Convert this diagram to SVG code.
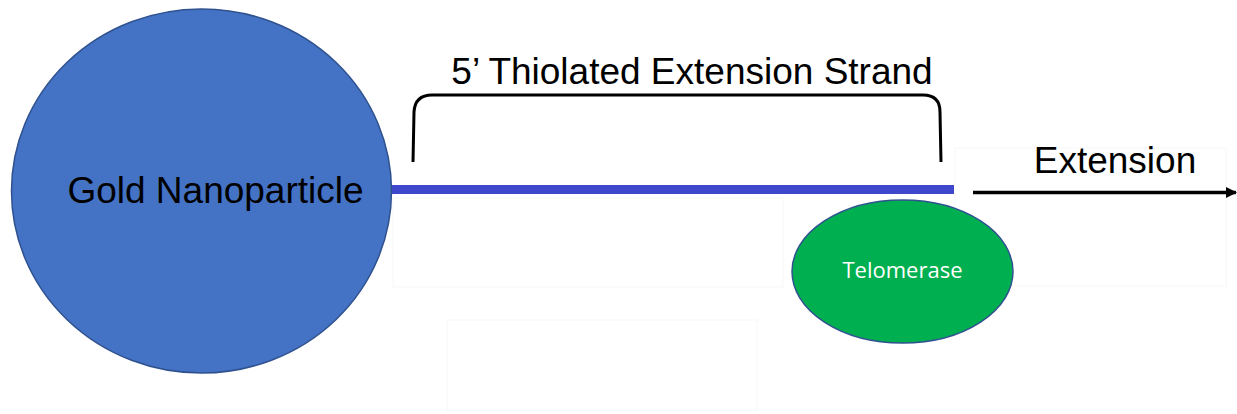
<svg xmlns="http://www.w3.org/2000/svg" width="1237" height="414" viewBox="0 0 1237 414">
  <style>
    .label { font-family: "Liberation Sans", Arial, sans-serif; font-size: 37px; fill: #000000; }
    .enzyme-label { font-family: "Open Sans", "Liberation Sans", sans-serif; font-size: 22px; fill: #ffffff; }
    .ghost { fill: none; stroke: #f7f7f7; stroke-width: 1; }
  </style>
  <defs>
    <marker id="arrowhead" viewBox="0 0 10 10" refX="9" refY="5" markerWidth="3.2" markerHeight="3.6" orient="auto" markerUnits="strokeWidth">
      <path d="M0,0 L10,5 L0,10 Z" fill="#000000"/>
    </marker>
  </defs>

  <rect width="1237" height="414" fill="#ffffff"/>

  <!-- faint empty frames in the background -->
  <g id="frames">
    <rect class="ghost" x="393" y="198" width="390" height="89"/>
    <rect class="ghost" x="955" y="148" width="271" height="138"/>
    <rect class="ghost" x="447" y="320" width="310" height="91"/>
  </g>

  <!-- connectors: DNA strand and extension direction -->
  <g id="connectors">
    <line x1="392" y1="189.5" x2="954" y2="189.5" stroke="#3F48CC" stroke-width="9"/>
    <line x1="973" y1="192.5" x2="1236" y2="192.5" stroke="#000000" stroke-width="3.5" marker-end="url(#arrowhead)"/>
  </g>

  <g id="nanoparticle">
    <ellipse cx="201.5" cy="191" rx="190" ry="182" fill="#4472C4" stroke="#2F528F" stroke-width="1.5"/>
    <text class="label" x="215.5" y="203" text-anchor="middle">Gold Nanoparticle</text>
  </g>

  <g id="strand-bracket">
    <path d="M413,162 L414,112 Q415,95 432,95 L923,95 Q940,95 940,112 L941,162" fill="none" stroke="#000000" stroke-width="3"/>
    <text class="label" x="692" y="84" text-anchor="middle">5’ Thiolated Extension Strand</text>
  </g>

  <g id="telomerase">
    <ellipse cx="902.5" cy="271.5" rx="110.5" ry="71.5" fill="#00B050" stroke="#2F528F" stroke-width="1.5"/>
    <text class="enzyme-label" x="902.5" y="278" text-anchor="middle">Telomerase</text>
  </g>

  <g id="extension-label">
    <text class="label" x="1115" y="173" text-anchor="middle">Extension</text>
  </g>
</svg>
